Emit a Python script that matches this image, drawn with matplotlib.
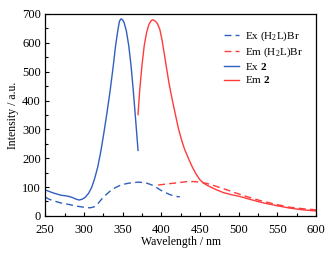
import numpy as np
import matplotlib
matplotlib.use("Agg")
import matplotlib.pyplot as plt
from matplotlib.ticker import MultipleLocator

plt.rcParams['font.family'] = ['Liberation Serif', 'DejaVu Serif']
plt.rcParams['mathtext.fontset'] = 'custom'
plt.rcParams['mathtext.rm'] = 'Liberation Serif'
plt.rcParams['mathtext.bf'] = 'Liberation Serif:bold'
FS = 9
BLUE = '#2f5fc0'
RED = '#ff3b3b'

# Ex (H2L)Br - dashed blue
ex_l_x = [250, 255, 260, 265, 270, 280, 290, 300, 308, 313, 318, 323, 328, 334, 340, 347, 355, 362, 370, 376, 382, 388, 394, 400, 406, 412, 418, 424]
ex_l_y = [65, 58, 53, 49, 45, 40, 34, 30, 28, 31, 42, 58, 72, 86, 97, 106, 112, 115, 117, 116, 113, 107, 98, 88, 80, 73, 68, 66]

# Em (H2L)Br - dashed red
em_l_x = [396, 405, 415, 425, 433, 442, 450, 458, 466, 475, 485, 498, 515, 532, 550, 566, 583, 600]
em_l_y = [107, 110, 113, 116, 119, 119, 117, 113, 107, 99, 90, 78, 63, 50, 39, 30, 25, 21]

# Ex 2 - solid blue
ex2_x = [250, 255, 260, 265, 270, 275, 280, 285, 290, 294, 298, 302, 306, 310, 314, 318, 322, 326, 330, 334,
         338, 341, 344, 346, 348, 350, 352, 355, 358, 361, 364, 367, 370]
ex2_y = [90, 85, 80, 76, 72, 70, 68, 64, 58, 55, 58, 65, 78, 98, 130, 170, 225, 290, 360, 435,
         520, 590, 645, 675, 683, 680, 670, 640, 590, 520, 430, 330, 227]

# Em 2 - solid red
em2_x = [370, 372, 375, 378, 381, 384, 387, 389, 392, 395, 398, 401, 404, 407, 410, 414, 418, 422, 426, 430,
         435, 440, 445, 450, 455, 460, 470, 480, 490, 502, 515, 532, 550, 566, 583, 600]
em2_y = [351, 430, 520, 590, 635, 663, 677, 680, 676, 667, 648, 610, 560, 510, 460, 405, 355, 305, 265, 232,
         200, 170, 145, 125, 113, 105, 92, 81, 74, 67, 57, 45, 35, 27, 21, 17]

fig = plt.figure(figsize=(3.32, 2.54), dpi=100)
ax = fig.add_axes([0.136, 0.150, 0.816, 0.795])

ax.plot(ex_l_x, ex_l_y, '--', color=BLUE, lw=1.0, dashes=(5, 3), label=r'Ex (H$_2$L)Br')
ax.plot(em_l_x, em_l_y, '--', color=RED, lw=1.0, dashes=(5, 3), label=r'Em (H$_2$L)Br')
ax.plot(ex2_x, ex2_y, '-', color=BLUE, lw=1.0, label=r'Ex $\mathbf{2}$')
ax.plot(em2_x, em2_y, '-', color=RED, lw=1.0, label=r'Em $\mathbf{2}$')

ax.set_xlim(250, 600)
ax.set_ylim(0, 700)
ax.xaxis.set_major_locator(MultipleLocator(50))
ax.xaxis.set_minor_locator(MultipleLocator(25))
ax.yaxis.set_major_locator(MultipleLocator(100))
ax.yaxis.set_minor_locator(MultipleLocator(50))
ax.tick_params(which='both', direction='in', labelsize=FS, top=False, right=False)
ax.tick_params(axis='x', pad=5.5)
ax.tick_params(axis='y', pad=3)
ax.tick_params(which='major', length=3, width=0.8)
ax.tick_params(which='minor', length=2, width=0.8)
for s in ax.spines.values():
    s.set_linewidth(0.9)
ax.set_xlabel('Wavelength / nm', fontsize=8.5, labelpad=0)
ax.set_ylabel('Intensity / a.u.', fontsize=8.5, labelpad=2)

ax.legend(loc='upper left', bbox_to_anchor=(0.63, 0.96), frameon=False, fontsize=8,
          handlelength=1.4, handletextpad=0.5, labelspacing=0.2, borderaxespad=0.3)

fig.savefig('out.png', dpi=100)
